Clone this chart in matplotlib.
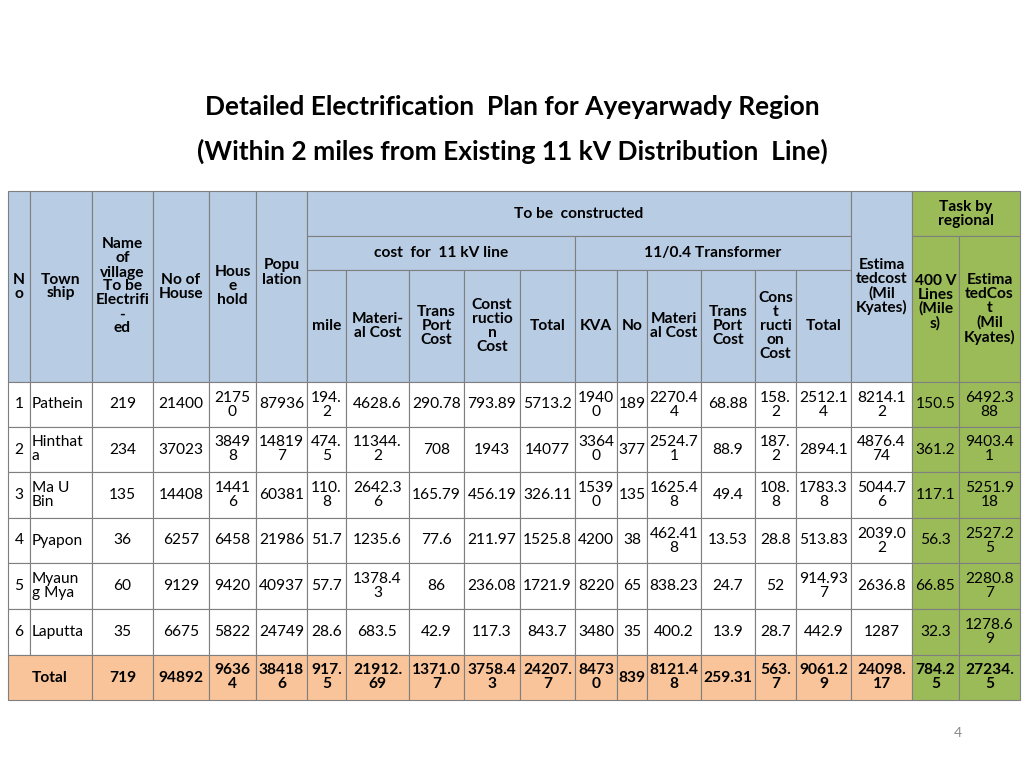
import matplotlib
matplotlib.use("Agg")
import matplotlib.pyplot as plt
from matplotlib.patches import Rectangle

FONT = "Lato"
no = ["1", "2", "3", "4", "5", "6"]
township = ["Pathein", "Hinthat\na", "Ma U\nBin", "Pyapon", "Myaun\ng Mya", "Laputta"]
villages = ["219", "234", "135", "36", "60", "35"]
houses = ["21400", "37023", "14408", "6257", "9129", "6675"]
household = ["21750", "38498", "14416", "6458", "9420", "5822"]
population = ["87936", "148197", "60381", "21986", "40937", "24749"]
mile = ["194.2", "474.5", "110.8", "51.7", "57.7", "28.6"]
line_material = ["4628.6", "11344.2", "2642.36", "1235.6", "1378.43", "683.5"]
line_transport = ["290.78", "708", "165.79", "77.6", "86", "42.9"]
line_construct = ["793.89", "1943", "456.19", "211.97", "236.08", "117.3"]
line_total = ["5713.2", "14077", "326.11", "1525.8", "1721.9", "843.7"]
kva = ["19400", "33640", "15390", "4200", "8220", "3480"]
tr_no = ["189", "377", "135", "38", "65", "35"]
tr_material = ["2270.44", "2524.71", "1625.48", "462.418", "838.23", "400.2"]
tr_transport = ["68.88", "88.9", "49.4", "13.53", "24.7", "13.9"]
tr_construct = ["158.2", "187.2", "108.8", "28.8", "52", "28.7"]
tr_total = ["2512.14", "2894.1", "1783.38", "513.83", "914.937", "442.9"]
est_cost = ["8214.12", "4876.474", "5044.76", "2039.02", "2636.8", "1287"]
lines_400v = ["150.5", "361.2", "117.1", "56.3", "66.85", "32.3"]
est_cost_400 = ["6492.388", "9403.41", "5251.918", "2527.25", "2280.87", "1278.69"]
totals = ["719", "94892", "96364", "384186", "917.5", "21912.69", "1371.07", "3758.43",
          "24207.7", "84730", "839", "8121.48", "259.31", "563.7", "9061.29", "24098.17",
          "784.25", "27234.5"]

xs = [8, 30, 92, 153, 209, 256, 307, 346, 409, 464, 520, 575, 617, 647, 701, 755, 796, 851, 912, 959, 1020]
row_y = [382, 427, 472, 518, 563, 609, 655, 700]
maxch = [None, None, 6, 6, 4, 5, 4, 6, 6, 6, 6, 4, 3, 6, 6, 4, 6, 6, 5, 6]

BLUE = "#b8cce4"; GREEN = "#9bbb59"; ORANGE = "#f9c49a"; EDGE = "#7f7f7f"

fig = plt.figure(figsize=(10.24, 7.68), dpi=100)
ax = fig.add_axes([0, 0, 1, 1])
ax.set_xlim(0, 1024); ax.set_ylim(768, 0); ax.axis("off")

def cell(x0, x1, y0, y1, text, color, bold=False, ha="center", size=11.2):
    ax.add_patch(Rectangle((x0, y0), x1 - x0, y1 - y0, facecolor=color, edgecolor=EDGE, lw=0.8))
    if ha == "center":
        tx = (x0 + x1) / 2
    else:
        tx = x0 + 2
    ax.text(tx, (y0 + y1) / 2, text, ha=ha, va="center", fontsize=size, family=FONT,
            fontweight="bold" if bold else "normal", linespacing=1.0, multialignment=ha)

def wrap(s, n):
    if n is None or len(s) <= n:
        return s
    return s[:n] + "\n" + s[n:]

ax.text(512, 107, "Detailed Electrification  Plan for Ayeyarwady Region", ha="center", va="center",
        fontsize=19, fontweight="bold", family=FONT)
ax.text(512, 151, "(Within 2 miles from Existing 11 kV Distribution  Line)", ha="center", va="center",
        fontsize=19, fontweight="bold", family=FONT)

H0, H1, H2, H3 = 191, 236, 270, 382
left_heads = ["N\no", "Town\nship", "Name\nof\nvillage\nTo be\nElectrifi\n-\ned", "No of\nHouse",
              "Hous\ne\nhold", "Popu\nlation\n\n"]
for i, t in enumerate(left_heads):
    cell(xs[i], xs[i + 1], H0, H3, t, BLUE, True)
cell(307, 851, H0, H1, "To be  constructed", BLUE, True)
cell(307, 575, H1, H2, "cost  for  11 kV line", BLUE, True)
cell(575, 851, H1, H2, "11/0.4 Transformer", BLUE, True)
sub = ["mile", "Materi-\nal Cost", "Trans\nPort\nCost", "Const\nructio\nn\nCost", "Total",
       "KVA", "No", "Materi\nal Cost", "Trans\nPort\nCost", "Cons\nt\nructi\non\nCost", "Total"]
for j, t in enumerate(sub):
    cell(xs[6 + j], xs[7 + j], H2, H3, t, BLUE, True)
cell(851, 912, H0, H3, "Estima\ntedcost\n(Mil\nKyates)", BLUE, True)
cell(912, 1020, H0, H1, "Task by\nregional", GREEN, True)
cell(912, 959, H1, H3, "400 V\nLines\n(Mile\ns)\n", GREEN, True)
cell(959, 1020, H1, H3, "Estima\ntedCos\nt\n(Mil\nKyates)", GREEN, True)

cols = [no, township, villages, houses, household, population, mile, line_material,
        line_transport, line_construct, line_total, kva, tr_no, tr_material, tr_transport,
        tr_construct, tr_total, est_cost, lines_400v, est_cost_400]
for r in range(6):
    y0, y1 = row_y[r], row_y[r + 1]
    for c, col in enumerate(cols):
        color = GREEN if c >= 18 else "white"
        ha = "left" if c == 1 else "center"
        cell(xs[c], xs[c + 1], y0, y1, wrap(col[r], maxch[c]), color, False, ha)

y0, y1 = row_y[6], row_y[7]
cell(xs[0], xs[2], y0, y1, "Total", ORANGE, True)
for k, t in enumerate(totals):
    c = k + 2
    color = GREEN if c >= 18 else ORANGE
    cell(xs[c], xs[c + 1], y0, y1, wrap(t, maxch[c]), color, True)

ax.text(958, 733, "4", ha="center", va="center", fontsize=10, color="#8c8c8c", family=FONT)
fig.savefig("out.png", dpi=100)
